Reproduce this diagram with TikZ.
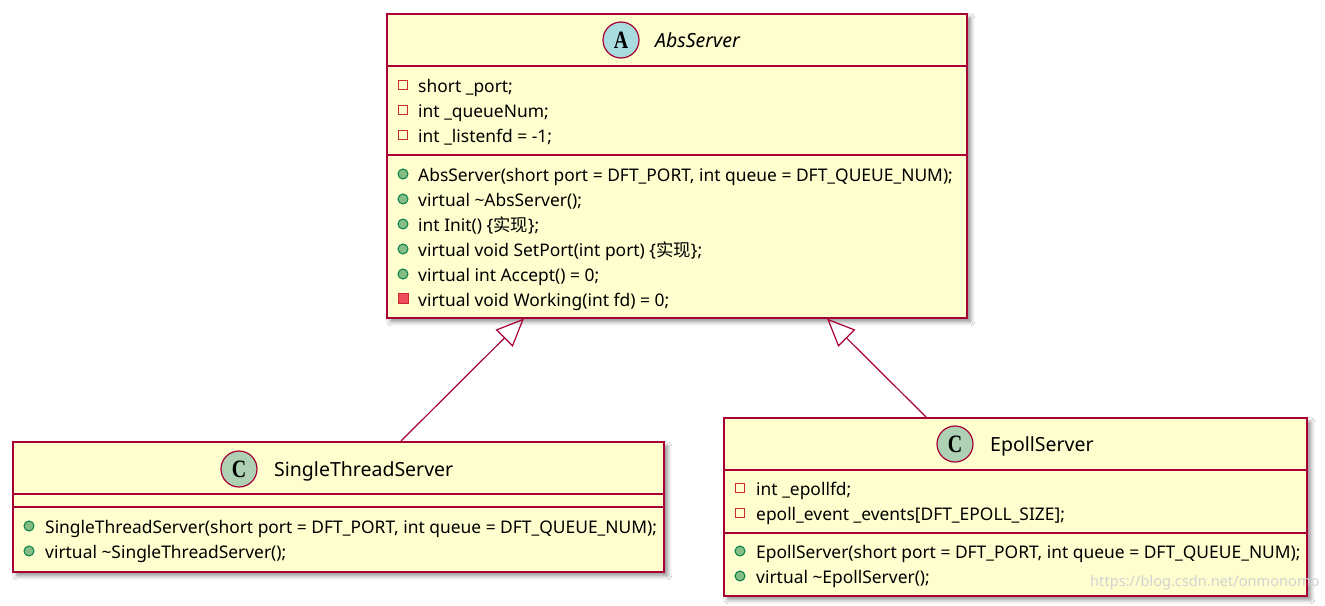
\documentclass[tikz,border=0pt]{standalone}
\usepackage{fontspec}
\setmainfont{Noto Sans}
\newfontfamily\cjk{Noto Sans CJK SC}
\newfontfamily\circfont{Liberation Serif}
\usetikzlibrary{arrows.meta,shadows.blur,calc}
\definecolor{umlfill}{HTML}{FEFECE}
\definecolor{umlred}{HTML}{A80036}
\definecolor{abscirc}{HTML}{A9DCDF}
\definecolor{clscirc}{HTML}{ADD1B2}
\definecolor{privred}{HTML}{C82930}
\definecolor{pubfill}{HTML}{84BE84}
\definecolor{pubdraw}{HTML}{038048}
\definecolor{protfill}{HTML}{F24D5C}
\newcommand{\circletter}[1]{\scalebox{0.8}[1]{#1}}
\tikzset{
 classbox/.style={draw=umlred, fill=umlfill, line width=1.5pt, inner sep=0pt, anchor=north west,
   blur shadow={shadow xshift=4pt, shadow yshift=-4pt, shadow blur steps=6, shadow blur radius=4pt, shadow opacity=45}},
 sepline/.style={draw=umlred, line width=1.5pt},
 member/.style={anchor=west, inner sep=0pt, font=\fontsize{17.4}{20}\selectfont, text=black, text height=12pt, text depth=3.5pt},
 titletext/.style={anchor=west, inner sep=0pt, text height=14pt, text depth=4pt},
 privicon/.style={draw=privred, line width=1.1pt, minimum size=9pt, inner sep=0pt, rectangle},
 pubicon/.style={draw=pubdraw, fill=pubfill, line width=1pt, circle, minimum size=10pt, inner sep=0pt},
 proticon/.style={draw=privred, fill=protfill, line width=1pt, minimum size=10pt, inner sep=0pt, rectangle},
 stereo/.style={circle, draw=umlred, line width=1.2pt, minimum size=36pt, inner sep=0pt, font=\circfont\bfseries\fontsize{25}{25}\selectfont},
 inherit/.style={draw=umlred, line width=1.2pt, -{Triangle[open, length=28pt, width=24pt, line width=1.2pt]}},
}
\begin{document}
\begin{tikzpicture}[x=1pt,y=-1pt]
\useasboundingbox[fill=white] (0,0) rectangle (1325,605);
% ---------- AbsServer ----------
\node[classbox, minimum width=580pt, minimum height=304pt] (abs) at (386,13) {};
\draw[sepline] ($(abs.north west)+(0,53)$) -- ($(abs.north east)+(0,53)$);
\draw[sepline] ($(abs.north west)+(0,142)$) -- ($(abs.north east)+(0,142)$);
\node[stereo, fill=abscirc] (absA) at (621,40) {\circletter{A}};
\node[titletext, font=\fontsize{19.5}{22}\selectfont\itshape] (absT) at (655,42) {AbsServer};
\node[privicon] (ai1) at (403,85) {};
\node[member] (a1) at (418,88.5) {short \_port;};
\node[privicon] (ai2) at (403,110) {};
\node[member] (a2) at (418,113.5) {int \_queueNum;};
\node[privicon] (ai3) at (403,135) {};
\node[member] (a3) at (418,138.5) {int \_listenfd = -1;};
\node[pubicon] (mi1) at (403,174) {};
\node[member] (m1) at (418,177.5) {AbsServer(short port = DFT\_PORT, int queue = DFT\_QUEUE\_NUM);};
\node[pubicon] (mi2) at (403,199) {};
\node[member] (m2) at (418,202.5) {virtual \textasciitilde AbsServer();};
\node[pubicon] (mi3) at (403,224) {};
\node[member] (m3) at (418,227.5) {int Init() \{{\cjk 实现}\};};
\node[pubicon] (mi4) at (403,249) {};
\node[member] (m4) at (418,252.5) {virtual void SetPort(int port) \{{\cjk 实现}\};};
\node[pubicon] (mi5) at (403,274) {};
\node[member] (m5) at (418,277.5) {virtual int Accept() = 0;};
\node[proticon] (mi6) at (403,298.5) {};
\node[member] (m6) at (418,302.5) {virtual void Working(int fd) = 0;};
% ---------- SingleThreadServer ----------
\node[classbox, minimum width=651pt, minimum height=130pt] (st) at (12,441) {};
\draw[sepline] ($(st.north west)+(0,53)$) -- ($(st.north east)+(0,53)$);
\draw[sepline] ($(st.north west)+(0,66)$) -- ($(st.north east)+(0,66)$);
\node[stereo, fill=clscirc] (stC) at (239,469) {\circletter{C}};
\node[titletext, font=\fontsize{19.5}{22}\selectfont] (stT) at (274,471) {SingleThreadServer};
\node[pubicon] (si1) at (29,526) {};
\node[member] (s1) at (45,529.5) {SingleThreadServer(short port = DFT\_PORT, int queue = DFT\_QUEUE\_NUM);};
\node[pubicon] (si2) at (29,551) {};
\node[member] (s2) at (45,554.5) {virtual \textasciitilde SingleThreadServer();};
% ---------- EpollServer ----------
\node[classbox, minimum width=583pt, minimum height=178pt] (ep) at (723,417) {};
\draw[sepline] ($(ep.north west)+(0,53)$) -- ($(ep.north east)+(0,53)$);
\draw[sepline] ($(ep.north west)+(0,116)$) -- ($(ep.north east)+(0,116)$);
\node[stereo, fill=clscirc] (epC) at (955,444) {\circletter{C}};
\node[titletext, font=\fontsize{19.5}{22}\selectfont] (epT) at (990,446) {EpollServer};
\node[privicon] (ei1) at (740,488) {};
\node[member] (e1) at (756,491.5) {int \_epollfd;};
\node[privicon] (ei2) at (740,513) {};
\node[member] (e2) at (756,516.5) {epoll\_event \_events[DFT\_EPOLL\_SIZE];};
\node[pubicon] (ei3) at (740,551) {};
\node[member] (e3) at (756,554.5) {EpollServer(short port = DFT\_PORT, int queue = DFT\_QUEUE\_NUM);};
\node[pubicon] (ei4) at (740,576) {};
\node[member] (e4) at (756,579.5) {virtual \textasciitilde EpollServer();};
% ---------- inheritance ----------
\draw[inherit] ($(st.north west)+(389,0)$) -- ($(abs.south west)+(138,0)$);
\draw[inherit] ($(ep.north west)+(203,0)$) -- ($(abs.south west)+(441,0)$);
% watermark
\node[anchor=west, inner sep=0pt, text=gray!35, font=\fontsize{14.6}{15}\selectfont] (wm) at (1090,583) {https://blog.csdn.net/onmonomo};
\end{tikzpicture}
\end{document}
